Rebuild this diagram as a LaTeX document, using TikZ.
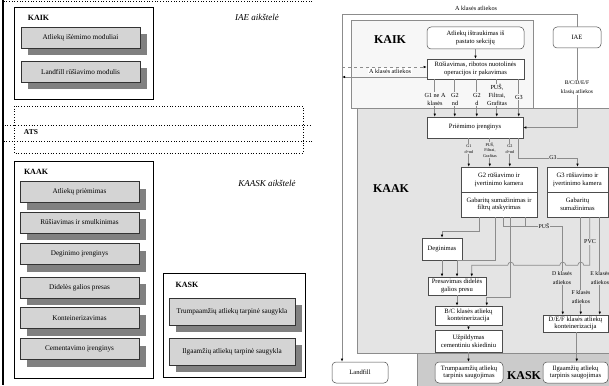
\documentclass[tikz,border=0pt]{standalone}
\usepackage{fontspec}
\setmainfont{Liberation Serif}
\usetikzlibrary{arrows.meta,shadows}
\newcommand\sz[2]{\fontsize{#1}{#2}\selectfont}
\definecolor{kaikfill}{HTML}{F7F7F7}
\definecolor{kaakfill}{HTML}{E4E4E4}
\definecolor{kaskfill}{HTML}{CBCBCB}
\definecolor{linegray}{HTML}{8C8C8C}
\definecolor{boxfill}{HTML}{D4D4D4}
\definecolor{shadowgray}{HTML}{808080}
\begin{document}
\begin{tikzpicture}[x=1pt,y=-1pt,
  conn/.style={draw=linegray, line width=0.7pt},
  arr/.style={conn, -{Latex[length=3.2pt,width=2.6pt,color=black]}},
  box/.style={draw=black!70, fill=white, line width=0.5pt, align=center, inner sep=0pt, font=\sz{6.6}{7.8}},
  rbox/.style={box, rounded corners=4pt},
  lbl/.style={align=center, inner sep=0.6pt, font=\sz{6.2}{8}},
  tinylbl/.style={align=center, inner sep=0.4pt, font=\sz{4.2}{5.6}},
  title/.style={font=\bfseries\sz{12}{14}, inner sep=0pt},
  region/.style={draw=linegray, line width=0.6pt, anchor=north west, inner sep=0pt},
  lbox/.style={draw=black!80, fill=boxfill, line width=0.5pt, inner sep=0pt, font=\sz{7.2}{8},
    drop shadow={shadow xshift=7pt, shadow yshift=-7pt, fill=shadowgray, opacity=1}},
  cont/.style={draw=black, fill=white, line width=0.8pt, anchor=north west, inner sep=0pt},
  dotbox/.style={draw=black, dotted, line width=0.7pt}
]
\useasboundingbox (0,0) rectangle (609,385);
\clip (0,0) rectangle (609,385);

% ===================== LEFT DIAGRAM =====================
\draw[dotbox] (312,1) -- (3,1) -- (3,125) -- (312,125);
\draw[dotbox] (14,106) rectangle (303,153);
\draw[dotbox] (312,141) -- (3,141) -- (3,386);
\draw[line width=2pt] (3,0) -- (3,385);

\node[font=\itshape\sz{9}{10}, inner sep=0pt] (iaesite) at (257,17) {IAE aikštelė};
\node[font=\bfseries\sz{7.5}{9}, inner sep=0pt] (ats) at (31,132) {ATS};
\node[font=\itshape\sz{9}{10}, inner sep=0pt] (kaasksite) at (267,183) {KAASK aikštelė};

\node[cont, minimum width=139pt, minimum height=92pt] (kaikL) at (14,7) {};
\node[font=\bfseries\sz{8}{9}, inner sep=0pt] (kaikLt) at (38.5,18) {KAIK};
\node[lbox, minimum width=119pt, minimum height=21pt] (l1) at (80.5,37.5) {Atliekų išėmimo moduliai};
\node[lbox, minimum width=119pt, minimum height=21pt] (l2) at (80.5,72) {Landfill rūšiavimo modulis};

\node[cont, minimum width=139pt, minimum height=217pt] (kaakL) at (14,161) {};
\node[font=\bfseries\sz{8}{9}, inner sep=0pt] (kaakLt) at (36,172) {KAAK};
\node[lbox, minimum width=119pt, minimum height=21pt] (k1) at (79.5,192) {Atliekų priėmimas};
\node[lbox, minimum width=119pt, minimum height=21pt] (k2) at (79.5,222.5) {Rūšiavimas ir smulkinimas};
\node[lbox, minimum width=119pt, minimum height=21pt] (k3) at (79.5,254) {Deginimo įrenginys};
\node[lbox, minimum width=119pt, minimum height=21pt] (k4) at (79.5,287.5) {Didelės galios presas};
\node[lbox, minimum width=119pt, minimum height=21pt] (k5) at (79.5,318) {Konteinerizavimas};
\node[lbox, minimum width=119pt, minimum height=21pt] (k6) at (79.5,349) {Cementavimo įrenginys};

\node[cont, minimum width=142pt, minimum height=104pt] (kaskL) at (163,273) {};
\node[font=\bfseries\sz{8}{9}, inner sep=0pt] (kaskLt) at (187,285) {KASK};
\node[lbox, minimum width=126pt, minimum height=27pt] (s1) at (232,311.5) {Trumpaamžių atliekų tarpinė saugykla};
\node[lbox, minimum width=126pt, minimum height=27pt] (s2) at (232,351.5) {Ilgaamžių atliekų tarpinė saugykla};

% ===================== RIGHT DIAGRAM =====================
\node[region, fill=kaikfill, minimum width=182pt, minimum height=88pt] (kaikR) at (351,20) {};
\node[region, fill=kaakfill, minimum width=255pt, minimum height=245pt] (kaakR) at (357,108) {};
\node[region, fill=kaskfill, minimum width=195pt, minimum height=37pt] (kaskR) at (417,353) {};

\node[title] (kaikT) at (390,40) {KAIK};
\node[title] (kaakT) at (391,189) {KAAK};
\node[title] (kaskT) at (524,376) {KASK};

% nodes
\node[rbox, minimum width=97pt, minimum height=22pt] (ext) at (475.5,38) {Atliekų ištraukimas iš\\pastato sekcijų};
\node[rbox, minimum width=48pt, minimum height=21pt] (iae) at (577,37.5) {IAE};
\node[box, minimum width=97pt, minimum height=20pt] (rus) at (475.5,69) {Rūšiavimas, ribotos nuotolinės\\operacijos ir pakavimas};
\node[box, minimum width=96pt, minimum height=21pt] (prim) at (475,127.5) {Priėmimo įrenginys};
\node[box, minimum width=76pt, minimum height=25pt] (g2a) at (499,179.5) {G2 rūšiavimo ir\\įvertinimo kamera};
\node[box, minimum width=76pt, minimum height=25pt] (g2b) at (499,204.5) {Gabaritų sumažinimas ir\\filtrų atskyrimas};
\node[box, minimum width=61pt, minimum height=25pt] (g3a) at (577.5,179.5) {G3 rūšiavimo ir\\įvertinimo kamera};
\node[box, minimum width=61pt, minimum height=25pt] (g3b) at (577.5,204.5) {Gabaritų\\sumažinimas};
\node[box, minimum width=40pt, minimum height=22pt] (deg) at (442,249) {Deginimas};
\node[box, minimum width=58pt, minimum height=18pt] (pres) at (457,286) {Presavimas didelės\\galios presu};
\node[box, minimum width=67pt, minimum height=19pt] (bc) at (468.5,315.5) {B/C klasės atliekų\\konteinerizacija};
\node[box, minimum width=67pt, minimum height=22pt] (uzp) at (468.5,341) {Užpildymas\\cementiniu skiediniu};
\node[rbox, minimum width=68pt, minimum height=21pt] (trump) at (469,372.5) {Trumpaamžių atliekų\\tarpinis saugojimas};
\node[box, minimum width=65pt, minimum height=17pt] (def) at (575.5,323.5) {D/E/F klasės atliekų\\konteinerizacija};
\node[rbox, minimum width=65pt, minimum height=21pt] (ilga) at (575.5,372.5) {Ilgaamžių atliekų\\tarpinis saugojimas};
\node[rbox, minimum width=56pt, minimum height=21pt] (land) at (360,372.5) {Landfill};

% outer A-class line
\coordinate (ctl) at (342,14);
\coordinate (dl) at (342,67);
\coordinate (al) at (342,77);
\draw[arr] (iae.north) |- (ctl) -- (ctl |- land.north);
\node[lbl, fill=white] (alab) at (476,8) {A klasės atliekos};

\draw[arr, dashed] (dl) -- (dl -| rus.west);
\draw[arr] (al -| rus.west) -- (al);
\node[lbl, fill=white] (alab2) at (390,71) {A klasės atliekos};

\draw[arr] (ext.south) -- (ext.south |- rus.north);

% rus -> prim
\foreach \s in {8,28,50,70,92}
  \draw[arr] ([xshift=\s pt]rus.south west) -- ([xshift=\s pt]rus.south west |- prim.north);
\node[lbl, fill=kaikfill] (r1) at (435,99) {G1 ne A\\klasės};
\node[lbl, fill=kaikfill] (r2) at (455,99) {G2\\nd};
\node[lbl, fill=kaikfill] (r3) at (477,99) {G2\\d};
\node[lbl, fill=kaikfill] (r4) at (497,95) {PUŠ,\\Filtrai,\\Grafitas};
\node[lbl, fill=kaikfill] (r5) at (519,97) {G3};

\draw[arr] (iae.south) |- (prim.east);
\node[lbl, fill=white, font=\sz{5.6}{8.5}] (bcdef) at (577,87.5) {B/C/D/E/F\\klasių atliekos};

% prim -> g2 / g3
\foreach \s in {42,63,83}
  \draw[arr] ([xshift=\s pt]prim.south west) -- ([xshift=\s pt]prim.south west |- g2a.north);
\node[tinylbl, fill=kaakfill] (p1) at (469,149) {G1\\d+nd};
\node[tinylbl, fill=kaakfill] (p2) at (490,150) {PUŠ,\\Filtrai,\\Grafitas};
\node[tinylbl, fill=kaakfill] (p3) at (510,149) {G2\\d+nd};
\draw[arr] ([xshift=92pt]prim.south west) -- ++(0,20) -| (g3a.north);
\node[lbl, fill=kaakfill, font=\sz{5.8}{7}] (g3lab) at (553,158) {G3};

% g2 outputs
\draw[arr] ([xshift=19pt]g2b.south west) -- ++(0,14) -| (deg.north);
\draw[arr] (deg.south) -- (deg.south |- pres.north);
\draw[arr] ([xshift=35pt]g2b.south west) -- ++(0,43) -| (pres.north);
\draw[arr] ([xshift=50pt]g2b.south west) -- ++(0,80) -| ([xshift=52pt]bc.north west);
\draw[arr] ([xshift=65pt]g2b.south west) -- ++(0,9) -| ([xshift=20pt]def.north west);
\draw[conn] ([xshift=43pt]g2b.south west) -- ++(0,9) -- ++(22,0);
\node[lbl, fill=kaakfill, font=\sz{5.8}{7}] (pus) at (544,226) {PUŠ};

% g3 outputs
\draw[arr] ([xshift=34pt]g3b.south west) -- ([xshift=34pt]g3b.south west |- def.north);
\draw[arr] ([xshift=53pt]g3b.south west) -- ([xshift=53pt]g3b.south west |- def.north);
\draw[arr] ([xshift=43pt]g3b.south west) -- ++(0,48) -- ++(-6,0)
  .. controls +(0,-4) and +(0,-4) .. ++(-6,0) -- ++(-12,0)
  .. controls +(0,-4) and +(0,-4) .. ++(-6,0) -- ++(-46,0)
  .. controls +(0,-4) and +(0,-4) .. ++(-6,0) -| ([xshift=44pt]pres.north west);
\node[lbl, fill=kaakfill, font=\sz{6}{7}] (pvc) at (590,242) {PVC};
\node[lbl, fill=kaakfill, font=\sz{5.8}{8.5}] (dlab) at (562,278) {D klasės\\atliekos};
\node[lbl, fill=kaakfill, font=\sz{5.8}{8.5}] (elab) at (600,278) {E klasės\\atliekos};
\node[lbl, fill=kaakfill, font=\sz{5.8}{8.5}] (flab) at (581,297) {F klasės\\atliekos};

% lower chain
\draw[arr] (pres.south) -- (pres.south |- bc.north);
\draw[arr] (bc.south) -- (uzp.north);
\draw[arr] (uzp.south) -- (uzp.south |- trump.north);
\draw[arr] ([xshift=34pt]def.south west) -- ([xshift=34pt]def.south west |- ilga.north);
\end{tikzpicture}
\end{document}
